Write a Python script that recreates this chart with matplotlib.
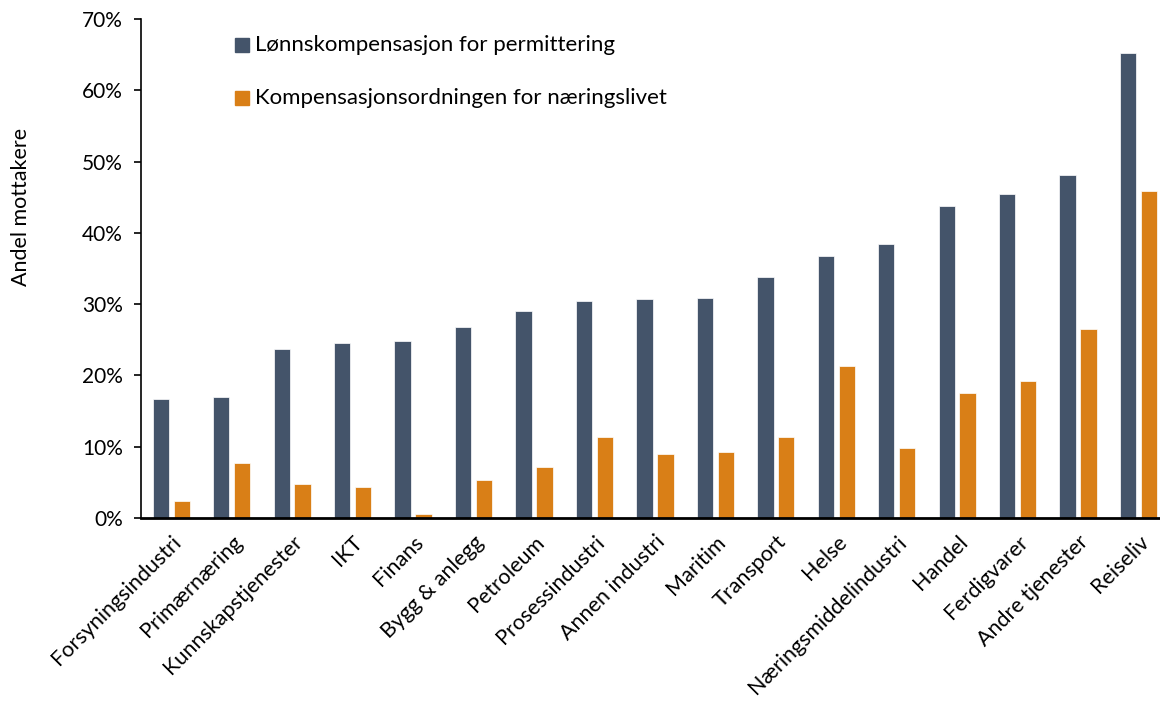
import matplotlib.pyplot as plt
import numpy as np

plt.rcParams['font.family'] = ['Lato', 'DejaVu Sans']

categories = ['Forsyningsindustri', 'Primærnæring', 'Kunnskapstjenester', 'IKT', 'Finans',
              'Bygg & anlegg', 'Petroleum', 'Prosessindustri', 'Annen industri', 'Maritim',
              'Transport', 'Helse', 'Næringsmiddelindustri', 'Handel', 'Ferdigvarer',
              'Andre tjenester', 'Reiseliv']
lonnskomp = [16.7, 17.0, 23.7, 24.6, 24.8, 26.8, 29.1, 30.4, 30.7, 30.8,
             33.8, 36.7, 38.5, 43.8, 45.4, 48.1, 65.3]
kompordning = [2.4, 7.7, 4.7, 4.3, 0.6, 5.3, 7.1, 11.4, 9.0, 9.2,
               11.3, 21.3, 9.8, 17.5, 19.2, 26.5, 45.9]
series_names = ['Lønnskompensasjon for permittering', 'Kompensasjonsordningen for næringslivet']

dark = '#44546a'
orange = '#d97f17'

fig = plt.figure(figsize=(11.6, 7.06), dpi=100)
ax = fig.add_axes([0.1216, 0.2663, 0.8784, 0.7067])

x = np.arange(len(categories))
w = 0.27
off = 0.173
ax.bar(x - off, lonnskomp, w, color=dark, edgecolor='white', linewidth=0.5)
ax.bar(x + off, kompordning, w, color=orange, edgecolor='white', linewidth=0.5)

ax.set_xlim(-0.5, 16.355)
ax.set_ylim(0, 70)
ax.set_yticks(np.arange(0, 71, 10))
ax.set_yticklabels([f'{v}%' for v in range(0, 71, 10)], fontsize=15)
ax.set_xticks(x)
ax.set_xticklabels(categories, rotation=45, ha='right', rotation_mode='anchor', fontsize=15.5)
ax.tick_params(axis='x', length=0, pad=10)
ax.tick_params(axis='y', length=5, width=1.2, direction='out', pad=8)

for s in ['top', 'right']:
    ax.spines[s].set_visible(False)
ax.spines['left'].set_linewidth(1.2)
ax.spines['bottom'].set_linewidth(2)

fig.text(0.018, 0.707, 'Andel mottakere', rotation=90, va='center', ha='center', fontsize=15.5)

# legend drawn manually to match placement
for i, (name, col) in enumerate(zip(series_names, [dark, orange])):
    yy = 0.936 - i * 0.075
    fig.patches.append(plt.Rectangle((0.2025, yy - 0.0095), 0.012, 0.0195, color=col,
                                     transform=fig.transFigure, figure=fig))
    fig.text(0.2195, yy, name, va='center', ha='left', fontsize=16)

fig.savefig('out.png', dpi=100)
